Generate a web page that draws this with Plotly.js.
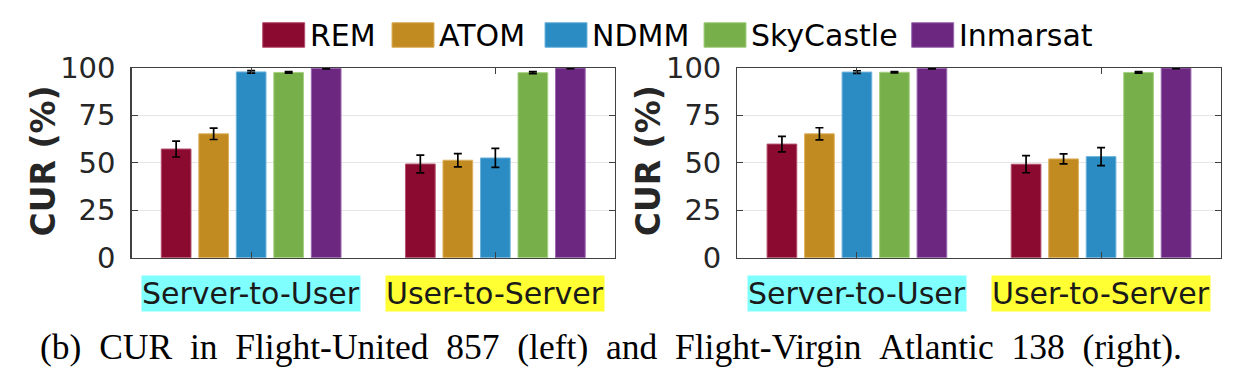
<!DOCTYPE html>
<html>
<head>
<meta charset="utf-8">
<script src="https://cdn.plot.ly/plotly-3.0.1.min.js"></script>
<style>
  html, body { margin: 0; padding: 0; background: #fff; }
  #chart { width: 1246px; height: 376px; }
</style>
</head>
<body>
<div id="chart"></div>
<script>
// ---------------- data ----------------
const categories = ['Server-to-User', 'User-to-Server'];
const seriesNames = ['REM', 'ATOM', 'NDMM', 'SkyCastle', 'Inmarsat'];

// Left panel: Flight-United 857
const leftREM       = [57.2, 49.3];
const leftATOM      = [65.2, 51.3];
const leftNDMM      = [97.8, 52.5];
const leftSkyCastle = [97.5, 97.4];
const leftInmarsat  = [99.7, 99.8];
const leftErrREM       = [4.2, 4.7];
const leftErrATOM      = [3.0, 3.5];
const leftErrNDMM      = [0.7, 5.0];
const leftErrSkyCastle = [0.4, 0.5];
const leftErrInmarsat  = [0.3, 0.3];

// Right panel: Flight-Virgin Atlantic 138
const rightREM       = [59.8, 49.2];
const rightATOM      = [65.2, 52.0];
const rightNDMM      = [97.7, 53.2];
const rightSkyCastle = [97.6, 97.5];
const rightInmarsat  = [99.7, 99.8];
const rightErrREM       = [4.1, 4.5];
const rightErrATOM      = [3.2, 2.6];
const rightErrNDMM      = [0.7, 4.7];
const rightErrSkyCastle = [0.4, 0.4];
const rightErrInmarsat  = [0.3, 0.3];

const yTickVals = [0, 25, 50, 75, 100];
const yTitle = 'CUR (%)';
const caption = '(b) CUR in Flight-United 857 (left) and Flight-Virgin Atlantic 138 (right).';

// ---------------- styles ----------------
const colors = ['#8A0A30', '#C28B21', '#2A8CC3', '#77B04A', '#6C2880'];
const edgeColors = ['#B4506E', '#DDB060', '#70B4DC', '#A6D080', '#9C6AB0'];
const catBg = ['#80FFFF', '#FFFF33'];
const sans = 'DejaVu Sans, Liberation Sans, Arial, sans-serif';
const W = 1246, H = 376;

const leftVals = [leftREM, leftATOM, leftNDMM, leftSkyCastle, leftInmarsat];
const leftErrs = [leftErrREM, leftErrATOM, leftErrNDMM, leftErrSkyCastle, leftErrInmarsat];
const rightVals = [rightREM, rightATOM, rightNDMM, rightSkyCastle, rightInmarsat];
const rightErrs = [rightErrREM, rightErrATOM, rightErrNDMM, rightErrSkyCastle, rightErrInmarsat];

const traces = [];
function addPanel(vals, errs, xa, ya) {
  seriesNames.forEach((name, i) => {
    traces.push({
      type: 'bar',
      name: name,
      x: categories,
      y: vals[i],
      xaxis: xa,
      yaxis: ya,
      showlegend: false,
      marker: { color: colors[i], line: { color: edgeColors[i], width: 1 } },
      error_y: { type: 'data', array: errs[i], visible: true, color: '#000', thickness: 1.7, width: 4 },
      hoverinfo: 'skip'
    });
  });
}
addPanel(leftVals, leftErrs, 'x', 'y');
addPanel(rightVals, rightErrs, 'x2', 'y2');

// panel geometry (pixels)
const pLeft = [131.5, 615];
const pRight = [737.3, 1220.7];
const pTop = 67.7, pBottom = 257.7;
const ydom = [(H - pBottom) / H, (H - pTop) / H];

const axisLine = '#404040';
function xaxisDef(px) {
  return {
    domain: [px[0] / W, px[1] / W],
    type: 'category',
    range: [-0.49, 1.49],
    showline: true, linecolor: axisLine, linewidth: 1.2, mirror: 'ticks',
    ticks: 'inside', ticklen: 6, tickwidth: 1, tickcolor: axisLine,
    showticklabels: false, showgrid: false, zeroline: false, fixedrange: true
  };
}
function yaxisDef(anchor) {
  return {
    domain: ydom, anchor: anchor,
    range: [0, 100], tickvals: yTickVals,
    showline: true, linecolor: axisLine, linewidth: 1.2, mirror: 'ticks',
    ticks: 'inside', ticklen: 6, tickwidth: 1, tickcolor: axisLine,
    showgrid: true, gridcolor: '#E6E6E6', gridwidth: 1,
    zeroline: false,
    tickfont: { family: sans, size: 29, color: '#262626' },
    ticklabelstandoff: 9,
    fixedrange: true
  };
}

const annotations = [];
const shapes = [];
// category labels with coloured background
['x', 'x2'].forEach(xr => {
  categories.forEach((c, i) => {
    annotations.push({
      xref: xr, yref: 'paper', x: i, y: (H - 293) / H,
      xanchor: 'center', yanchor: 'middle', showarrow: false,
      text: c, bgcolor: catBg[i], borderpad: 0,
      font: { family: sans, size: 30, color: '#1A1A1A' }
    });
  });
});
// y titles
[pLeft, pRight].forEach(px => {
  annotations.push({
    xref: 'paper', yref: 'paper', x: (px[0] - 89) / W, y: (H - 161) / H,
    xanchor: 'center', yanchor: 'middle', showarrow: false, textangle: -90,
    text: '<b>' + yTitle + '</b>',
    font: { family: sans, size: 33, color: '#262626' }
  });
});
// legend (drawn manually with large swatches)
const legendSwatchX = [262.7, 392, 545, 704, 911.7];
const swW = 42, swTop = 22.7, swBot = 47.3;
seriesNames.forEach((name, i) => {
  const x0 = legendSwatchX[i];
  shapes.push({
    type: 'rect', xref: 'paper', yref: 'paper',
    x0: x0 / W, x1: (x0 + swW) / W, y0: (H - swBot) / H, y1: (H - swTop) / H,
    fillcolor: colors[i], line: { color: edgeColors[i], width: 1 }
  });
  annotations.push({
    xref: 'paper', yref: 'paper', x: (x0 + swW + 3) / W, y: (H - 36) / H,
    xanchor: 'left', yanchor: 'middle', showarrow: false,
    text: name, font: { family: sans, size: 30, color: '#000' }
  });
});
// caption (justified line in the original: slightly wider inter-word spacing)
annotations.push({
  xref: 'paper', yref: 'paper', x: 611 / W, y: (H - 347) / H,
  xanchor: 'center', yanchor: 'middle', showarrow: false,
  text: caption.split(' ').join(' \u00A0'),
  font: { family: 'Liberation Serif, Times New Roman, serif', size: 35.5, color: '#000' }
});

const layout = {
  width: W, height: H,
  margin: { l: 0, r: 0, t: 0, b: 0, pad: 0 },
  paper_bgcolor: '#fff', plot_bgcolor: '#fff',
  barmode: 'group', bargap: 0.232, bargroupgap: 0.208,
  showlegend: false,
  xaxis: xaxisDef(pLeft),
  yaxis: yaxisDef('x'),
  xaxis2: xaxisDef(pRight),
  yaxis2: yaxisDef('x2'),
  annotations: annotations,
  shapes: shapes
};

Plotly.newPlot('chart', traces, layout, { displayModeBar: false, staticPlot: true });
</script>
</body>
</html>
